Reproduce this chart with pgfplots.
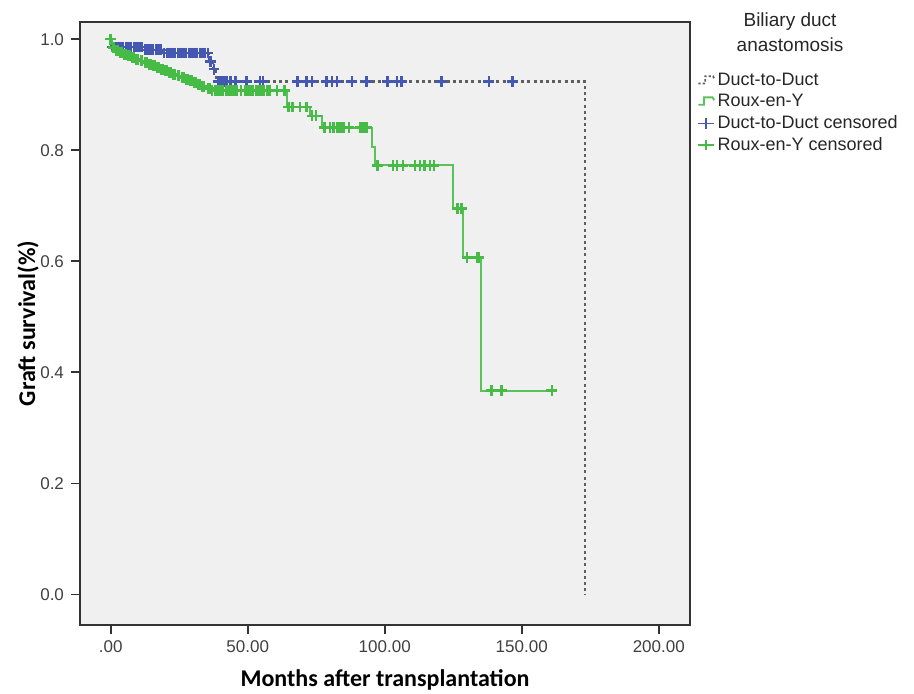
\documentclass[border=0pt]{standalone}
\usepackage{fontspec}
\setmainfont{Liberation Sans}
\newfontfamily\calib{Carlito}
\usepackage{pgfplots}
\pgfplotsset{compat=1.18}
\definecolor{bg}{RGB}{240,240,240}
\definecolor{bluec}{RGB}{68,88,178}
\definecolor{greenc}{RGB}{70,188,70}
\definecolor{greenl}{RGB}{90,194,90}
\definecolor{dgray}{RGB}{95,95,95}
\begin{document}
\begin{tikzpicture}
\useasboundingbox (-40pt,-34pt) rectangle (417pt,312.5pt);
\begin{axis}[
  at={(0,0)}, anchor=south west,
  scale only axis, width=305pt, height=301.5pt,
  xmin=-11.2, xmax=211.4, ymin=-0.055, ymax=1.031,
  axis background/.style={fill=bg},
  axis line style={line width=0.9pt, black!80},
  tick align=outside, tick pos=left,
  major tick length=4.5pt,
  tick style={black!80, line width=0.9pt},
  xtick={0,50,100,150,200}, xticklabels={.00,50.00,100.00,150.00,200.00},
  ytick={0,0.2,0.4,0.6,0.8,1.0}, yticklabels={0.0,0.2,0.4,0.6,0.8,1.0},
  tick label style={font=\fontsize{8.5}{10}\selectfont, text=black!75},
  xlabel={Months after transplantation}, ylabel={Graft survival(\%)},
  label style={font=\calib\bfseries\fontsize{12}{14}\selectfont},
  xlabel style={at={(axis description cs:0.5,-0.091)}, anchor=center},
  ylabel style={at={(axis description cs:-0.085,0.5)}, anchor=center},
  clip=false,
  legend style={at={(axis description cs:1.0115,0.92)}, anchor=north west,
    draw=none, fill=none, font=\fontsize{9}{10}\selectfont, inner sep=0pt,
    row sep=0.5pt, nodes={inner sep=1.2pt, text=black!85}},
  legend cell align=left,
]
% Duct-to-Duct survival line
\addplot[const plot, dgray, line width=1.1pt, dash pattern=on 1.5pt off 1.6pt,
  legend image code/.code={\draw[dgray, line width=0.9pt, dash pattern=on 1.2pt off 1pt] (0cm,-0.05cm) -- (0.12cm,-0.05cm) -- (0.12cm,0.08cm) -- (0.26cm,0.08cm) -- (0.28cm,0.03cm);}]
coordinates {(0,1.0)(0.3,0.986)(12,0.981)(19,0.975)(36,0.960)(37.2,0.946)(38.5,0.924)(173,0)};
\addlegendentry{Duct-to-Duct}
% Roux-en-Y survival line
\addplot[const plot, greenl, line width=1pt,
  legend image code/.code={\draw[greenl, line width=0.9pt] (0cm,-0.05cm) -- (0.1cm,-0.05cm) -- (0.1cm,0.08cm) -- (0.25cm,0.08cm) -- (0.28cm,0.03cm);}]
coordinates {(0,1.0)(0.5,0.985)(2,0.979)(3,0.976)(4.5,0.973)(6,0.970)(7.5,0.967)(9,0.964)(10.5,0.961)(12,0.958)(13.5,0.955)(15,0.952)(16.5,0.949)(18,0.946)(19.5,0.943)(21,0.940)(22.5,0.937)(24,0.934)(25.5,0.931)(27,0.928)(28.5,0.925)(30,0.922)(31.5,0.919)(33,0.915)(35,0.911)(36.5,0.908)(64.5,0.878)(72.6,0.862)(77,0.841)(95.5,0.805)(96.5,0.773)(124.8,0.695)(128.5,0.607)(135,0.367)(161,0.367)};
\addlegendentry{Roux-en-Y}
% Duct-to-Duct censored
\addplot[only marks, mark=+, mark size=2.7pt, bluec, mark options={line width=1.25pt},
  legend image code/.code={\draw[bluec, line width=0.8pt] (0cm,0cm) -- (0.28cm,0cm); \draw[bluec, line width=0.9pt] (0.14cm,-0.09cm) -- (0.14cm,0.09cm);}]
coordinates {(0.5,0.986)(1.5,0.986)(2.5,0.986)(3.5,0.986)(4.5,0.986)(5.5,0.986)(6.5,0.986)(7.5,0.986)(8.5,0.986)(9.5,0.986)(10.5,0.986)(11.3,0.986)
(12.5,0.981)(13.5,0.981)(14.5,0.981)(15.5,0.981)(16.5,0.981)(17.5,0.981)(18.3,0.981)
(19.5,0.975)(20.5,0.975)(21.5,0.975)(22.5,0.975)(23.5,0.975)(24.5,0.975)(25.5,0.975)(26.5,0.975)(27.5,0.975)(28.5,0.975)(29.5,0.975)(30.5,0.975)(31.5,0.975)(32.5,0.975)(33.5,0.975)(34.5,0.975)(35.5,0.975)
(36.5,0.960)(37.7,0.946)
(39.3,0.924)(40.5,0.924)(41.5,0.924)(42.5,0.924)(43.7,0.924)(45.5,0.924)(49.6,0.924)(54.4,0.924)(55.5,0.924)(68.2,0.924)(71.5,0.924)(73.4,0.924)(78.8,0.924)(80.7,0.924)(82.5,0.924)(88,0.924)(93.4,0.924)(101,0.924)(104.4,0.924)(106.2,0.924)(120.8,0.924)(138,0.924)(146.7,0.924)};
\addlegendentry{Duct-to-Duct censored}
% Roux-en-Y censored
\addplot[only marks, mark=+, mark size=2.7pt, greenc, mark options={line width=1.25pt},
  legend image code/.code={\draw[greenc, line width=0.8pt] (0cm,0cm) -- (0.28cm,0cm); \draw[greenc, line width=0.9pt] (0.14cm,-0.09cm) -- (0.14cm,0.09cm);}]
coordinates {(0,1.0)(1,0.985)(2,0.979)(2.5,0.979)(3.5,0.976)(4,0.976)(5,0.973)(5.5,0.973)(6.5,0.970)(7,0.970)(8,0.967)(8.5,0.967)(9.5,0.964)(10,0.964)(11,0.961)(11.5,0.961)(12.5,0.958)(13,0.958)(14,0.955)(14.5,0.955)(15.5,0.952)(16,0.952)(17,0.949)(17.5,0.949)(18.5,0.946)(19,0.946)(20,0.943)(20.5,0.943)(21.5,0.940)(22,0.940)(23,0.937)(23.5,0.937)(24.5,0.934)(25,0.934)(26,0.931)(26.5,0.931)(27.5,0.928)(28,0.928)(29,0.925)(29.5,0.925)(30.5,0.922)(31,0.922)(32,0.919)(32.5,0.919)(33.5,0.915)(34,0.915)(35.5,0.911)(36,0.911)
(37,0.908)(38,0.908)(39,0.908)(40,0.908)(41,0.908)(42,0.908)(43,0.908)(44,0.908)(45,0.908)(46,0.908)(47.5,0.908)(49,0.908)(50,0.908)(51,0.908)(52,0.908)(53,0.908)(54,0.908)(55,0.908)(56,0.908)(57,0.908)(58,0.908)(60.6,0.908)(63.5,0.908)
(64.8,0.878)(66.4,0.878)(69,0.878)(71.5,0.878)
(73.5,0.862)(75,0.862)
(78,0.841)(80,0.841)(81.3,0.841)(82.8,0.841)(83.9,0.841)(85,0.841)(86.9,0.841)(91.2,0.841)(92.3,0.841)(93.4,0.841)
(97.4,0.773)(103,0.773)(104.4,0.773)(106.6,0.773)(111,0.773)(112.8,0.773)(114.6,0.773)(116.5,0.773)(118,0.773)
(126.6,0.695)(128,0.695)
(130,0.607)(133.6,0.607)(134.2,0.607)
(139,0.367)(142.7,0.367)(161,0.367)};
\addlegendentry{Roux-en-Y censored}
\node[align=center, font=\fontsize{9.5}{12.5}\selectfont, text=black!85] at (axis description cs:1.164,0.9826) {Biliary duct\\anastomosis};
\end{axis}
\end{tikzpicture}
\end{document}
